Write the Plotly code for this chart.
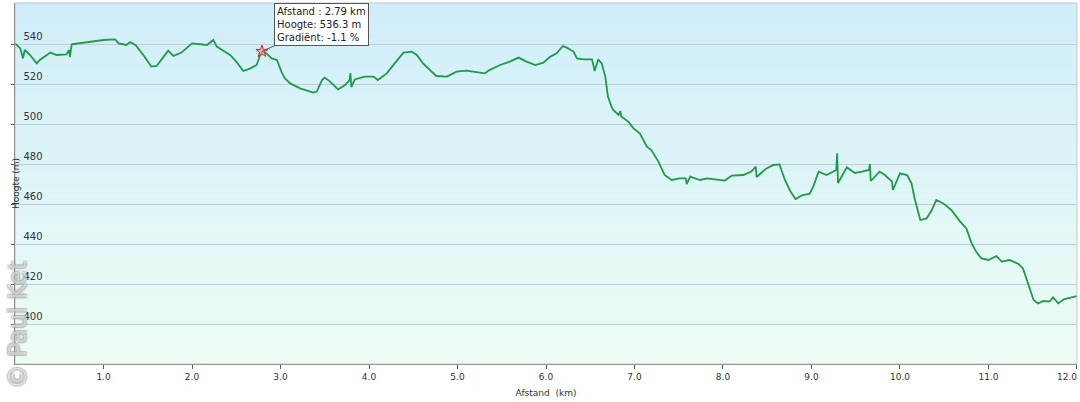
import plotly.graph_objects as go

# Distance (km) and elevation (m) read from the profile
dist = [0.0, 0.06, 0.09, 0.11, 0.17, 0.245, 0.28, 0.40, 0.47, 0.58, 0.61, 0.62, 0.64, 0.73, 0.87,
        1.0, 1.13, 1.17, 1.26, 1.30, 1.36, 1.45, 1.54, 1.60, 1.68, 1.73, 1.79, 1.88,
        2.0, 2.09, 2.17, 2.24, 2.28, 2.34, 2.43, 2.50, 2.58, 2.66, 2.73, 2.77, 2.79, 2.84, 2.90, 2.96,
        3.01, 3.05, 3.11, 3.22, 3.37, 3.41, 3.47, 3.50, 3.56, 3.65, 3.73, 3.78, 3.79, 3.80, 3.84, 3.95,
        4.05, 4.10, 4.20, 4.29, 4.39, 4.48, 4.54, 4.61, 4.69, 4.76, 4.88, 4.99,
        5.10, 5.22, 5.31, 5.35, 5.48, 5.59, 5.69, 5.78, 5.88, 5.97,
        6.05, 6.12, 6.19, 6.23, 6.31, 6.35, 6.42, 6.52, 6.55, 6.59, 6.63, 6.67, 6.70, 6.74, 6.76,
        6.82, 6.84, 6.85, 6.93, 6.99, 7.06, 7.14, 7.19, 7.27, 7.34, 7.42, 7.51, 7.58, 7.59, 7.63,
        7.74, 7.82, 7.93, 8.02, 8.10, 8.23, 8.32, 8.37, 8.38, 8.49, 8.57, 8.64, 8.66, 8.70,
        8.76, 8.82, 8.89, 8.98, 9.02, 9.08, 9.17, 9.21, 9.28, 9.29, 9.30, 9.40, 9.49, 9.57,
        9.65, 9.66, 9.67, 9.77, 9.83, 9.91, 9.92, 10.0, 10.08, 10.13, 10.17, 10.23, 10.30,
        10.36, 10.41, 10.49, 10.58, 10.68, 10.75, 10.81, 10.86, 10.92, 11.0, 11.09, 11.15,
        11.24, 11.34, 11.39, 11.45, 11.51, 11.56, 11.62, 11.69, 11.73, 11.79, 11.85, 12.0]

elev = [540.3, 537.8, 532.8, 537.0, 534.5, 530.3, 532.0, 535.7, 534.5, 534.8, 537.0, 533.5, 539.8, 540.3, 541.2,
        542.0, 542.3, 540.3, 539.5, 541.0, 539.5, 534.5, 528.7, 529.0, 533.7, 536.7, 534.0, 535.7,
        540.3, 539.8, 539.5, 542.0, 538.7, 537.0, 534.5, 531.2, 526.5, 527.8, 529.5, 534.5, 536.3, 535.3, 532.8, 532.0,
        526.2, 522.8, 520.3, 517.8, 515.7, 516.2, 522.0, 523.2, 521.2, 517.3, 519.5, 522.0, 525.5, 518.5, 522.3, 523.7,
        523.7, 522.0, 525.3, 530.3, 535.7, 536.2, 534.5, 530.3, 527.0, 524.0, 523.7, 526.2,
        526.7, 525.7, 525.3, 526.7, 529.5, 531.2, 533.2, 531.2, 529.5, 530.7,
        533.7, 535.3, 539.0, 538.3, 536.2, 532.8, 532.3, 532.3, 526.5, 532.3, 530.3, 523.7, 513.7, 508.7, 507.0,
        504.5, 506.5, 503.7, 501.2, 497.8, 495.3, 488.7, 487.0, 481.2, 474.5, 472.0, 472.8, 472.8, 470.0, 473.7,
        472.0, 472.8, 472.3, 471.7, 474.2, 474.5, 476.2, 478.7, 473.5, 477.8, 479.5, 479.8, 477.0, 472.0,
        466.5, 462.5, 464.3, 465.2, 468.7, 476.2, 474.5, 475.3, 477.0, 485.3, 470.5, 478.3, 475.5, 476.2,
        477.0, 480.0, 471.5, 476.2, 474.5, 471.2, 467.0, 475.3, 474.5, 470.3, 462.0, 452.0, 452.8,
        457.0, 462.0, 460.3, 457.0, 451.2, 447.8, 440.3, 436.2, 432.8, 432.0, 434.0, 431.2,
        432.0, 430.0, 427.8, 420.3, 412.0, 410.3, 411.5, 411.2, 413.3, 410.3, 412.3, 414.0]

y_ticks = [400, 420, 440, 460, 480, 500, 520, 540]
x_ticks = [0, 1, 2, 3, 4, 5, 6, 7, 8, 9, 10, 11, 12]
x_tick_labels = ["", "1.0", "2.0", "3.0", "4.0", "5.0", "6.0", "7.0", "8.0", "9.0", "10.0", "11.0", ""]
x_start_tick = [0]
x_start_label = ["0.0"]
x_end_tick = [12]
x_end_label = ["12.0"]

sel_dist = 2.79
sel_elev = 536.3
sel_grad = -1.1

FONT = "DejaVu Sans"
X_RANGE = [-0.0005, 12.0005]

fig = go.Figure()
fig.add_trace(go.Scatter(x=dist, y=elev, mode="lines",
                         line=dict(color="#1f9a48", width=1.8), hoverinfo="skip", showlegend=False))
fig.add_trace(go.Scatter(x=[sel_dist], y=[sel_elev], mode="markers",
                         marker=dict(symbol="star", size=9, color="rgba(255,170,170,0.7)",
                                     line=dict(color="#e02020", width=1)),
                         hoverinfo="skip", showlegend=False))
# empty traces so the edge-label axes are drawn
fig.add_trace(go.Scatter(x=[], y=[], xaxis="x2", yaxis="y", showlegend=False, hoverinfo="skip"))
fig.add_trace(go.Scatter(x=[], y=[], xaxis="x3", yaxis="y", showlegend=False, hoverinfo="skip"))

# vertical gradient background
shapes = []
n = 60
top = (208, 238, 250)
bot = (236, 252, 243)
for i in range(n):
    t = i / (n - 1)
    c = tuple(round(top[k] + (bot[k] - top[k]) * t) for k in range(3))
    shapes.append(dict(type="rect", xref="x domain", yref="y domain",
                       x0=0, x1=1, y0=1 - (i + 1) / n, y1=1 - i / n + 0.001,
                       fillcolor="rgb(%d,%d,%d)" % c, line=dict(width=0), layer="below"))
shapes.append(dict(type="rect", xref="x domain", yref="y domain", x0=0, x1=1, y0=0, y1=1,
                   line=dict(color="#c4c8cc", width=1), fillcolor="rgba(0,0,0,0)", layer="above"))

edge_axis = dict(range=X_RANGE, overlaying="x", anchor="y", side="bottom",
                 automargin=False, showgrid=False, zeroline=False, showline=False, ticks="",
                 ticklabelstandoff=6, ticklabeloverflow="allow",
                 tickfont=dict(family=FONT, size=9, color="#333333"))

fig.update_layout(
    width=1080, height=402,
    margin=dict(l=15, r=3, t=3, b=38, autoexpand=False),
    paper_bgcolor="white",
    plot_bgcolor="rgba(0,0,0,0)",
    font=dict(family=FONT, size=9, color="#333333"),
    shapes=shapes,
    xaxis=dict(range=X_RANGE, tickvals=x_ticks, ticktext=x_tick_labels,
               ticklabeloverflow="allow", automargin=False,
               showgrid=False, zeroline=False, showline=True, linecolor="#666666", linewidth=1,
               ticks="outside", ticklen=4, tickcolor="#555555",
               tickfont=dict(family=FONT, size=9, color="#333333"),
               title=dict(text="Afstand  (km)", font=dict(family=FONT, size=9, color="#333333"), standoff=8)),
    xaxis2=dict(edge_axis, tickvals=x_end_tick, ticktext=x_end_label, ticklabelposition="outside left"),
    xaxis3=dict(edge_axis, tickvals=x_start_tick, ticktext=x_start_label, ticklabelposition="outside right"),
    yaxis=dict(range=[380, 560.5], tickvals=y_ticks, ticklabelposition="inside top",
               ticklabelstandoff=7, automargin=False,
               showgrid=True, gridcolor="#bccfd6", gridwidth=1, zeroline=False,
               showline=True, linecolor="#555555", linewidth=1,
               ticks="outside", ticklen=3, tickcolor="#555555",
               tickfont=dict(family=FONT, size=10, color="#333333"),
               title=dict(text="Hoogte (m)", font=dict(family=FONT, size=9, color="#333333"), standoff=2)),
)

fig.add_annotation(
    x=sel_dist, y=sel_elev, xref="x", yref="y",
    text="Afstand : %.2f km<br>Hoogte: %.1f m<br>Gradiënt: %.1f %%" % (sel_dist, sel_elev, sel_grad),
    showarrow=True, arrowhead=0, arrowwidth=1, arrowcolor="#555555",
    ax=60, ay=-27, align="left",
    font=dict(family=FONT, size=10, color="#222222"),
    bgcolor="white", bordercolor="#555555", borderwidth=1, borderpad=2,
)

# watermark
fig.add_annotation(
    x=0.0025, y=0.108, xref="paper", yref="paper", xanchor="center", yanchor="middle",
    text="© Paul Ket", showarrow=False, textangle=-90,
    font=dict(family="DejaVu Sans", size=24, color="rgba(255,255,255,0.45)",
              shadow="1px 1px 1px #999, -1px -1px 1px #999, 1px -1px 1px #999, -1px 1px 1px #999"),
)

fig.write_html("out.html", config={"displayModeBar": False},
               post_script="document.body.style.margin='0';")
